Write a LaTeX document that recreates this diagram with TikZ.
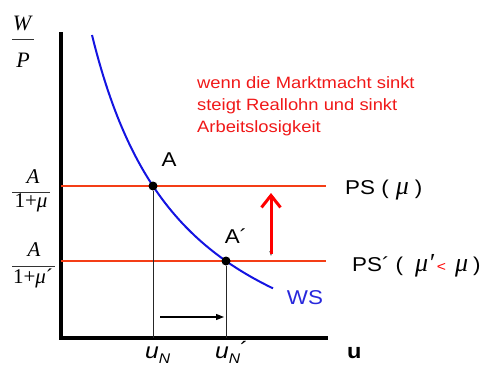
\documentclass[tikz,border=0pt]{standalone}
\usepackage{fontspec}
\setmainfont{Liberation Serif}
\newfontfamily\labf[FakeStretch=1.12]{Liberation Sans}
\usetikzlibrary{arrows.meta}
\definecolor{psred}{RGB}{244,62,22}
\definecolor{wsblue}{RGB}{20,20,225}
\definecolor{wslab}{RGB}{40,40,220}
\definecolor{txtred}{RGB}{240,24,24}
\newcommand{\mubig}[1]{{\rmfamily\itshape\fontsize{26}{26}\selectfont #1}}
\begin{document}
\begin{tikzpicture}[x=1pt,y=-1pt,
  axis/.style={line width=4pt, black},
  psline/.style={draw=psred, line width=2pt},
  guide/.style={line width=0.8pt, black!85},
  dot/.style={circle, fill=black, inner sep=0pt, minimum size=9pt},
  lab/.style={font=\labf\fontsize{20}{20}\selectfont, inner sep=0pt},
  ser/.style={font=\fontsize{22}{22}\selectfont\itshape, inner sep=0pt},
  fracbar/.style={line width=0.8pt, black!80}]
\useasboundingbox (0,0) rectangle (491,367);

% axes
\coordinate (ytop) at (61,32);
\coordinate (O) at (61,338);
\coordinate (xend) at (328,338);
\draw[axis] (ytop) -- (O) -- (xend);

% PS lines
\coordinate (ps0) at (61,186);
\coordinate (ps1) at (326,186);
\coordinate (pq0) at (61,261);
\coordinate (pq1) at (326,261);
\draw[psline] (ps0) -- (ps1);
\draw[psline] (pq0) -- (pq1);

% WS curve
\draw[wsblue, line width=2pt] plot[domain=92:273, samples=80] (\x, {421.4-367.35*(100/(\x+3.08))});

% points
\node[dot] (A) at (153,186) {};
\node[dot] (Aq) at (226,261) {};
\draw[guide] (A) -- (A |- O);
\draw[guide] (Aq) -- (Aq |- O);

% labels of points
\node[lab] (lA) at (169,160) {A};
\node[lab] (lAq) at (236,236) {A´};

% horizontal arrow
\coordinate (h0) at (160,317);
\coordinate (h1) at (224,317);
\draw[line width=1.3pt, -{Triangle[length=8pt,width=6pt]}] (h0) -- (h1);

% vertical arrows
\coordinate (r0) at (271,254);
\coordinate (r1) at (271,193);
\coordinate (b0) at (271,197);
\coordinate (b1) at (271,256);
\draw[black!80, line width=0.8pt, -{Triangle[length=5pt,width=3pt]}] (b0) -- (b1);
\draw[red, line width=3pt, -{Straight Barb[length=12pt,width=19pt]}] (r0) -- (r1);

% axis labels
\node[ser, anchor=base] (W) at (22,30) {W};
\node[ser, anchor=base] (P) at (23,67) {P};
\draw[fracbar] (12,39) -- (34,39);

\node[ser, anchor=base, font=\fontsize{21}{21}\selectfont\itshape] (n1) at (33,183) {A};
\draw[fracbar] (12,192) -- (50,192);
\node[ser, anchor=base, font=\fontsize{21}{21}\selectfont] (d1) at (31,207) {1+\textit{μ}};

\node[ser, anchor=base, font=\fontsize{21}{21}\selectfont\itshape] (n2) at (34,256) {A};
\draw[fracbar] (12,266) -- (55,266);
\node[ser, anchor=base, font=\fontsize{21}{21}\selectfont] (d2) at (33,283) {1+\textit{μ}´};

\node[lab, anchor=base west] (PS) at (345,194) {PS (\hspace{7pt}\mubig{μ}\hspace{6pt})};
\node[lab, anchor=base west] (PSq) at (352,271) {PS´ (\hspace{12pt}\mubig{μ′}\hspace{3pt}{\color{red}\fontsize{14}{14}\selectfont<}\hspace{9pt}\mubig{μ}\hspace{5pt})};

\node[lab, text=wslab] (WS) at (305,298) {WS};

\node[lab, anchor=base west, font=\labf\fontsize{22}{22}\selectfont\itshape] (uN) at (145,358) {u\raisebox{-5pt}{\fontsize{14}{14}\selectfont N}};
\node[lab, anchor=base west, font=\labf\fontsize{22}{22}\selectfont\itshape] (uNq) at (215,358) {u\raisebox{-5pt}{\fontsize{14}{14}\selectfont N}\raisebox{1pt}{\upshape´}};
\node[lab, anchor=base west, font=\labf\fontsize{21}{21}\selectfont\bfseries] (u) at (347,358) {u};

% text
\node[anchor=north west, inner sep=0pt, align=left, text=txtred,
  font=\labf\fontsize{16.4}{22}\selectfont] (txt) at (197,76)
  {wenn die Marktmacht sinkt\\steigt Reallohn und sinkt\\Arbeitslosigkeit};
\end{tikzpicture}
\end{document}
